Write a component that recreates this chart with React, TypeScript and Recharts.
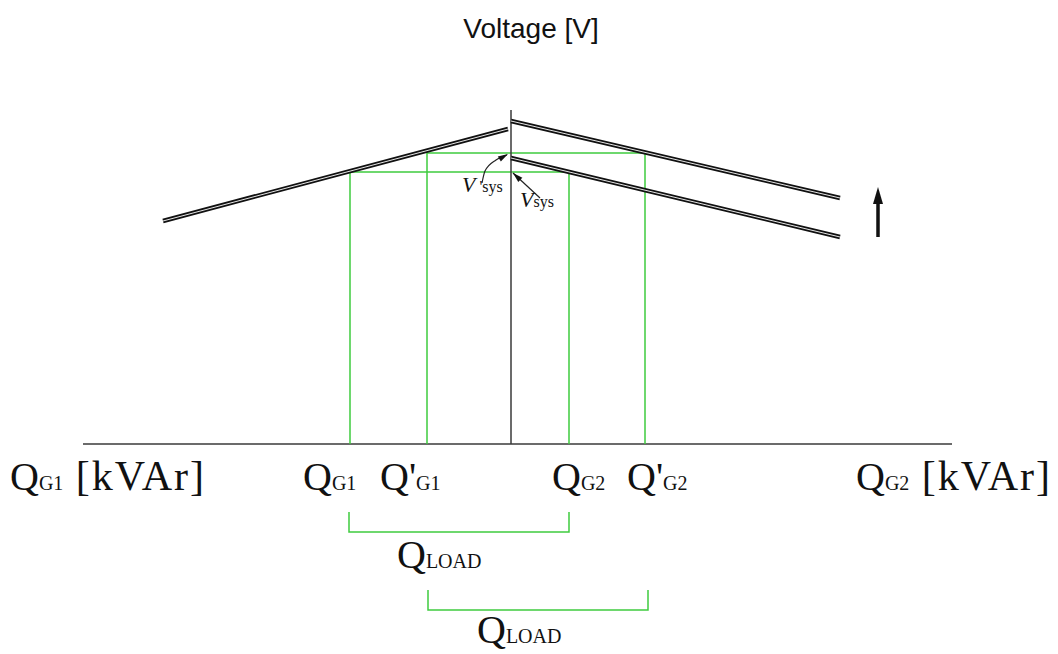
import { ComposedChart, Line, XAxis, YAxis, ReferenceDot } from 'recharts';

// Q axis in kVAr (0 = centre line), V axis in volts (0 = Q axis)
const qAxisLine = [{ q: -428, v: 0 }, { q: 441, v: 0 }];
const vAxisLine = [{ q: 0, v: 0 }, { q: 0, v: 334 }];

// droop characteristics
const g1Droop = [{ q: -348, v: 223 }, { q: -3, v: 315 }];
const g2DroopRaised = [{ q: 0, v: 323 }, { q: 329, v: 246 }];
const g2DroopBase = [{ q: 0, v: 286 }, { q: 329, v: 207 }];

// operating points (green)
const opBase = [{ q: -161, v: 0 }, { q: -161, v: 272 }, { q: 58, v: 272 }, { q: 58, v: 0 }];
const opRaised = [{ q: -84, v: 0 }, { q: -84, v: 291 }, { q: 134, v: 291 }, { q: 134, v: 0 }];

// Q_LOAD brackets
const loadBase = [{ q: -162, v: -68 }, { q: -162, v: -88 }, { q: 58, v: -88 }, { q: 58, v: -68 }];
const loadRaised = [{ q: -83, v: -146 }, { q: -83, v: -166 }, { q: 137, v: -166 }, { q: 137, v: -146 }];

// pointer arrows to V'sys and Vsys, plus the "raise" arrow
const vsysPrimePointer = [{ q: -29, v: 261 }, { q: -26, v: 273 }, { q: -15, v: 284 }, { q: -4, v: 289 }];
const vsysPointer = [{ q: 29, v: 246 }, { q: 2, v: 271 }];
const raiseShaft = [{ q: 367, v: 207 }, { q: 367, v: 244 }];

const arrowHeads = [
  { q: -3, v: 290, angle: -30 },
  { q: 2, v: 271, angle: -137 },
  { q: 367, v: 257, angle: -90 },
];

const title = { q: 20, v: 406, text: 'Voltage [V]' };

const axisEndLabels = [
  { q: -501, v: -46, main: 'Q', sub: 'G1', tail: ' [kVAr]' },
  { q: 345, v: -46, main: 'Q', sub: 'G2', tail: ' [kVAr]' },
];

const qLabels = [
  { q: -208, v: -46, main: 'Q', sub: 'G1' },
  { q: -131, v: -46, main: "Q'", sub: 'G1' },
  { q: 41, v: -46, main: 'Q', sub: 'G2' },
  { q: 116, v: -46, main: "Q'", sub: 'G2' },
];

const loadLabels = [
  { q: -114, v: -124, main: 'Q', sub: 'LOAD' },
  { q: -34, v: -199, main: 'Q', sub: 'LOAD' },
];

const vLabels = [
  { q: -49, v: 252, main: 'V', sub: " 'sys" },
  { q: 9, v: 237, main: 'V', sub: 'sys' },
];

const GREEN = '#3fcc3f';
const SERIF = '"Liberation Serif", "Times New Roman", serif';

export default function App() {
  const doubles = [g1Droop, g2DroopRaised, g2DroopBase];
  const greens = [opBase, opRaised, loadBase, loadRaised];

  return (
    <div style={{ position: 'absolute', left: 0, top: 0, background: '#fff' }}>
      <ComposedChart width={1058} height={654} margin={{ top: 0, right: 0, bottom: 0, left: 0 }}>
        <XAxis type="number" dataKey="q" domain={[-511, 547]} allowDataOverflow hide />
        <YAxis type="number" dataKey="v" domain={[-210, 444]} allowDataOverflow hide />

        <Line data={qAxisLine} dataKey="v" stroke="#3a3a3a" strokeWidth={1.5} dot={false} activeDot={false} isAnimationActive={false} />
        {greens.map((d, i) => (
          <Line key={'g' + i} data={d} dataKey="v" type="linear" stroke={GREEN} strokeWidth={1.5} dot={false} activeDot={false} isAnimationActive={false} />
        ))}
        <Line data={vAxisLine} dataKey="v" stroke="#3a3a3a" strokeWidth={1.5} dot={false} activeDot={false} isAnimationActive={false} />

        {doubles.map((d, i) => (
          <Line key={'b' + i} data={d} dataKey="v" stroke="#111" strokeWidth={4.5} dot={false} activeDot={false} isAnimationActive={false} />
        ))}
        {doubles.map((d, i) => (
          <Line key={'w' + i} data={d} dataKey="v" stroke="#fff" strokeWidth={0.9} dot={false} activeDot={false} isAnimationActive={false} />
        ))}

        <Line data={vsysPrimePointer} dataKey="v" type="monotone" stroke="#222" strokeWidth={1.2} dot={false} activeDot={false} isAnimationActive={false} />
        <Line data={vsysPointer} dataKey="v" stroke="#222" strokeWidth={1.2} dot={false} activeDot={false} isAnimationActive={false} />
        <Line data={raiseShaft} dataKey="v" stroke="#111" strokeWidth={3.5} dot={false} activeDot={false} isAnimationActive={false} />

        {arrowHeads.map((a, i) => (
          <ReferenceDot
            key={'a' + i}
            x={a.q}
            y={a.v}
            r={0}
            shape={(p: any) => {
              const big = i === 2;
              const len = big ? 17 : 10;
              const half = big ? 5 : 3;
              return (
                <polygon
                  points={`0,0 ${-len},${-half} ${-len},${half}`}
                  fill="#111"
                  transform={`translate(${p.cx},${p.cy}) rotate(${a.angle})`}
                />
              );
            }}
          />
        ))}

        <ReferenceDot
          x={title.q}
          y={title.v}
          r={0}
          shape={(p: any) => (
            <text x={p.cx} y={p.cy} textAnchor="middle" fontFamily='"Liberation Sans", Arial, sans-serif' fontSize={28} fill="#111">
              {title.text}
            </text>
          )}
        />

        {[...axisEndLabels, ...qLabels, ...loadLabels].map((l: any, i) => (
          <ReferenceDot
            key={'l' + i}
            x={l.q}
            y={l.v}
            r={0}
            shape={(p: any) => (
              <text x={p.cx} y={p.cy} fontFamily={SERIF} fill="#111">
                <tspan fontSize={40}>{l.main}</tspan>
                <tspan fontSize={l.sub === 'LOAD' ? 20 : 20}>{l.sub}</tspan>
                {l.tail ? <tspan fontSize={42} letterSpacing={2}>{l.tail}</tspan> : null}
              </text>
            )}
          />
        ))}

        {vLabels.map((l, i) => (
          <ReferenceDot
            key={'v' + i}
            x={l.q}
            y={l.v}
            r={0}
            shape={(p: any) => (
              <text x={p.cx} y={p.cy} fontFamily={SERIF} fill="#111">
                <tspan fontSize={22} fontStyle="italic">{l.main}</tspan>
                <tspan fontSize={16}>{l.sub}</tspan>
              </text>
            )}
          />
        ))}
      </ComposedChart>
    </div>
  );
}
